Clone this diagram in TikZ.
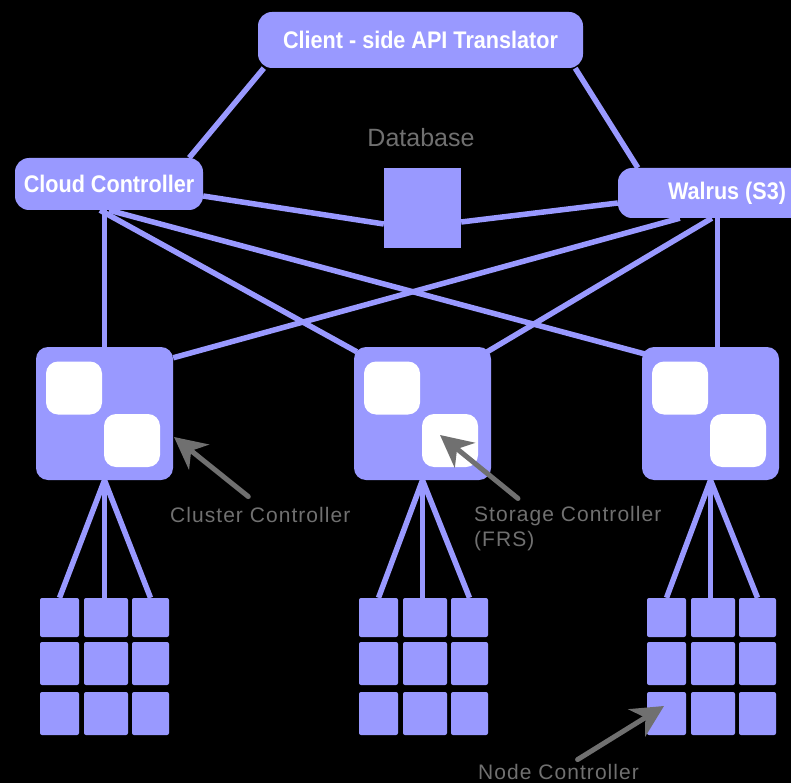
\documentclass[tikz,border=0pt]{standalone}
\usepackage{fontspec}
\usepackage{xcolor}
\usetikzlibrary{arrows.meta}
\setmainfont{Liberation Sans}
\newfontfamily\boxfont[FakeStretch=0.9]{Liberation Sans}
\newfontfamily\notefont[LetterSpace=5]{Liberation Sans}
\definecolor{lav}{HTML}{9999FF}
\definecolor{notegray}{HTML}{707070}

\pgfdeclarelayer{bg}
\pgfdeclarelayer{links}
\pgfsetlayers{bg,links,main}

\tikzset{
  box/.style={fill=lav, rounded corners=14pt, inner sep=0pt, text=white,
    font=\boxfont\bfseries\fontsize{24}{28}\selectfont},
  cluster/.style={fill=lav, rounded corners=12pt, minimum width=137, minimum height=133},
  slot/.style={fill=white, rounded corners=12pt, minimum width=56, minimum height=53, inner sep=0pt},
  cell/.style={fill=lav, rounded corners=2pt, inner sep=0pt},
  link/.style={draw=lav, line width=5.5pt},
  note/.style={text=notegray, inner sep=0pt, font=\notefont\fontsize{21}{25}\selectfont},
  pointer/.style={draw=notegray, line width=5pt, line cap=round,
    -{Stealth[length=32pt, width=32pt, inset=10pt]}}
}

\begin{document}
\begin{tikzpicture}[x=1pt, y=-1pt]

    \clip (0,0) rectangle (791,783);
    \begin{pgfonlayer}{bg}
    \fill [black] (0,0) rectangle (791,783);
    \end{pgfonlayer}

    % top row
    \node [box, minimum width=325, minimum height=56] (api) at (420.5,40) {Client - side API Translator};
    \node [box, minimum width=188, minimum height=52] (cloud) at (109,184) {Cloud Controller};
    \node [box, minimum width=218, minimum height=50] (walrus) at (727,193) {Walrus (S3)};
    \node [fill=lav, minimum width=77, minimum height=80, inner sep=0pt] (db) at (422.5,208) {};
    \node [note, anchor=base, font=\fontsize{25}{30}\selectfont] (dbname) at (421,147) {Database};

    % clusters with their two controllers
    \foreach \n/\x in {1/104.5, 2/422.5, 3/710.5} {
        \node [cluster] (cl\n) at (\x,413.5) {};
        \node [slot] (cl\n-a) at ([shift={(-30.5,-25.5)}]cl\n.center) {};
        \node [slot] (cl\n-b) at ([shift={(27.5,27)}]cl\n.center) {};
    }

    % node grids
    \foreach \g/\gx in {1/40, 2/359, 3/647}
        \foreach \c/\cx/\cw in {1/19.5/39, 2/66/44, 3/110.5/37}
            \foreach \r/\ry/\rh in {1/617.5/39, 2/663.5/43, 3/713.5/43}
                \node [cell, minimum width=\cw, minimum height=\rh] (g\g-\r-\c) at (\gx+\cx,\ry) {};

    \begin{pgfonlayer}{links}
    \draw [link] ([xshift=-14pt]cloud.north east) to ([xshift=6pt]api.south west);
    \draw [link] ([xshift=-8pt]api.south east) to ([xshift=20pt]walrus.north west);
    \draw [link] ([yshift=-12pt]cloud.east) to ([yshift=-16pt]db.west);
    \draw [link] ([yshift=-14pt]db.east) to ([yshift=-10pt]walrus.west);
    \draw [link] (cl1.north |- cloud.south) to (cl1.north);
    \draw [link] ([xshift=-9pt]cloud.south) to ([shift={(3pt,-5pt)}]cl2.north west);
    \draw [link] (cloud.south) to ([shift={(6pt,-8pt)}]cl3.north west);
    \draw [link] ([xshift=7pt]cl3.north |- walrus.south) to ([xshift=7pt]cl3.north);
    \draw [link] ([xshift=62pt]walrus.south west) to ([yshift=-11pt]cl1.north east);
    \draw [link] ([xshift=94pt]walrus.south west) to ([shift={(-4pt,-5pt)}]cl2.north east);
    \foreach \n in {1,2,3} {
        \draw [link] (cl\n.south) to (g\n-1-1.north);
        \draw [link] (cl\n.south) to (cl\n.south |- g\n-1-2.north);
        \draw [link] (cl\n.south) to (g\n-1-3.north);
    }
    \end{pgfonlayer}

    % callouts
    \node [note, anchor=base west] (cclabel) at (170,522) {Cluster Controller};
    \node [note, anchor=north west, align=left] (sclabel) at (474,506.5) {Storage Controller\\(FRS)};
    \node [note, anchor=base west] (nclabel) at (478,779) {Node Controller};
    \coordinate (cctip) at (174,437);
    \coordinate (sctip) at (440,435);
    \coordinate (nctip) at (664,706);

    \draw [pointer] ([shift={(-12,-10)}]cclabel.north) to (cctip);
    \draw [pointer] ([shift={(44,-8)}]sclabel.north west) to (sctip);
    \draw [pointer] ([shift={(19,-4)}]nclabel.north) to (nctip);

\end{tikzpicture}
\end{document}
